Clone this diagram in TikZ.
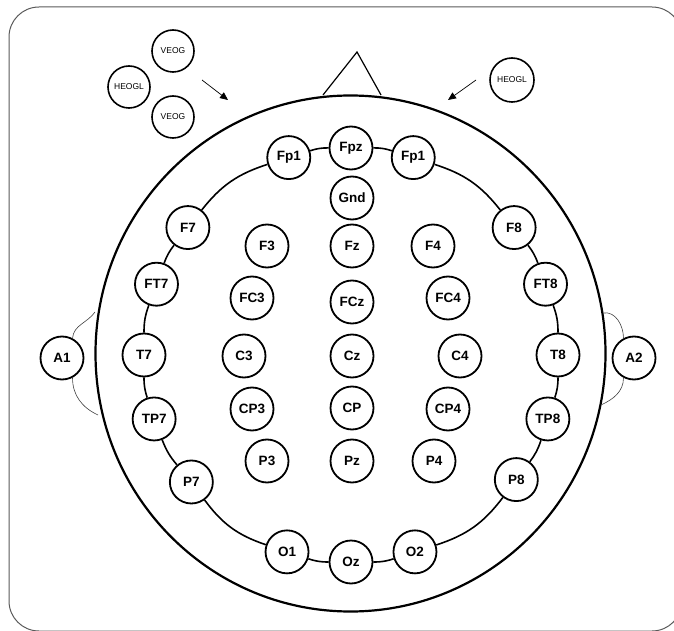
\documentclass[tikz,border=0pt]{standalone}
\usepackage{fontspec}
\setmainfont{Liberation Sans}
\usetikzlibrary{arrows.meta,calc}
\begin{document}
\begin{tikzpicture}[x=1pt,y=1pt,
  el/.style={circle,draw,line width=1.8pt,fill=white,minimum size=43pt,inner sep=0pt,
    font=\fontsize{13.5}{13.5}\selectfont\bfseries},
  eog/.style={circle,draw,line width=1.6pt,fill=white,minimum size=42pt,inner sep=0pt,
    font=\fontsize{8.5}{8.5}\selectfont},
  ring/.style={line width=1.6pt},
  ear/.style={line width=0.6pt,black!75},
  arr/.style={line width=0.7pt,-{Triangle[length=8pt,width=7pt]}}]
\useasboundingbox (0,0) rectangle (674,630);
% frame
\draw[black!65,line width=1pt,rounded corners=30pt] (9,-1) rectangle (682,623);
% head and nose
\draw[line width=2.2pt] (350.5,276.5) ellipse [x radius=255,y radius=258];
\draw[line width=1.2pt] (323,535) -- (357,578) -- (381,535);
% ring electrodes
\coordinate (C) at (351,275);
\node[el] (T8)   at ($(C)+(0:207)$)     {T8};
\node[el] (FT8)  at ($(C)+(20:207)$)    {FT8};
\node[el] (F8)   at ($(C)+(38:207)$)    {F8};
\node[el] (Fp2)  at ($(C)+(72.5:207)$)  {Fp1};
\node[el] (Fpz)  at ($(C)+(90:207)$)    {Fpz};
\node[el] (Fp1)  at ($(C)+(107.5:207)$) {Fp1};
\node[el] (F7)   at ($(C)+(142:207)$)   {F7};
\node[el] (FT7)  at ($(C)+(160:207)$)   {FT7};
\node[el] (T7)   at ($(C)+(180:207)$)   {T7};
\node[el] (TP7)  at ($(C)+(198:207)$)   {TP7};
\node[el] (P7)   at ($(C)+(218.5:204)$) {P7};
\node[el] (O1)   at ($(C)+(252:207)$)   {O1};
\node[el] (Oz)   at ($(C)+(270:207)$)   {Oz};
\node[el] (O2)   at ($(C)+(288:207)$)   {O2};
\node[el] (P8)   at ($(C)+(323:207)$)   {P8};
\node[el] (TP8)  at ($(C)+(342:207)$)   {TP8};
% ring connectors
\draw[ring] (T8) to[bend right=10] (FT8);
\draw[ring] (FT8) to[bend right=9] (F8);
\draw[ring] (F8) to[bend right=17] (Fp2);
\draw[ring] (Fp2) to[bend right=9] (Fpz);
\draw[ring] (Fpz) to[bend right=9] (Fp1);
\draw[ring] (Fp1) to[bend right=17] (F7);
\draw[ring] (F7) to[bend right=9] (FT7);
\draw[ring] (FT7) to[bend right=10] (T7);
\draw[ring] (T7) to[bend right=9] (TP7);
\draw[ring] (TP7) to[bend right=9.5] (P7);
\draw[ring] (P7) to[bend right=17.5] (O1);
\draw[ring] (O1) to[bend right=9] (Oz);
\draw[ring] (Oz) to[bend right=9] (O2);
\draw[ring] (O2) to[bend right=17.5] (P8);
\draw[ring] (P8) to[bend right=9.5] (TP8);
\draw[ring] (TP8) to[bend right=9] (T8);
% inner electrodes
\node[el] (Gnd) at (352,432) {Gnd};
\node[el] (F3)  at (267,384) {F3};
\node[el] (Fz)  at (352,384) {Fz};
\node[el] (F4)  at (433,384) {F4};
\node[el] (FC3) at (252,332) {FC3};
\node[el] (FCz) at (352,328) {FCz};
\node[el] (FC4) at (448,332) {FC4};
\node[el] (C3)  at (244,274) {C3};
\node[el] (Cz)  at (352,274) {Cz};
\node[el] (C4)  at (460,274) {C4};
\node[el] (CP3) at (252,221) {CP3};
\node[el] (CP)  at (352,222) {CP};
\node[el] (CP4) at (448,221) {CP4};
\node[el] (P3)  at (267,169) {P3};
\node[el] (Pz)  at (352,169) {Pz};
\node[el] (P4)  at (434,169) {P4};
% ears
\node[el] (A1) at (62,272) {A1};
\node[el] (A2) at (634,272) {A2};
\coordinate (eLt) at (95,318);
\coordinate (eLb) at (98,215);
\coordinate (eRt) at (603,317);
\coordinate (eRb) at (601,225);
\draw[ear] (eLt) to[out=235,in=85] (A1.62);
\draw[ear] (A1.-62) to[out=-90,in=155] (eLb);
\draw[ear] (eRt) to[out=10,in=90] (A2.118);
\draw[ear] (A2.-118) to[out=-90,in=25] (eRb);
% EOG electrodes
\node[eog] (VEOGa)  at (173,579) {VEOG};
\node[eog] (HEOGLa) at (129,543) {HEOGL};
\node[eog] (VEOGb)  at (173,513) {VEOG};
\node[eog,minimum size=44pt] (HEOGLb) at (512,550) {HEOGL};
\coordinate (aL1) at (202,550);
\coordinate (aL2) at (228,530);
\coordinate (aR1) at (476,550);
\coordinate (aR2) at (448,530);
\draw[arr] (aL1) -- (aL2);
\draw[arr] (aR1) -- (aR2);
\end{tikzpicture}
\end{document}
